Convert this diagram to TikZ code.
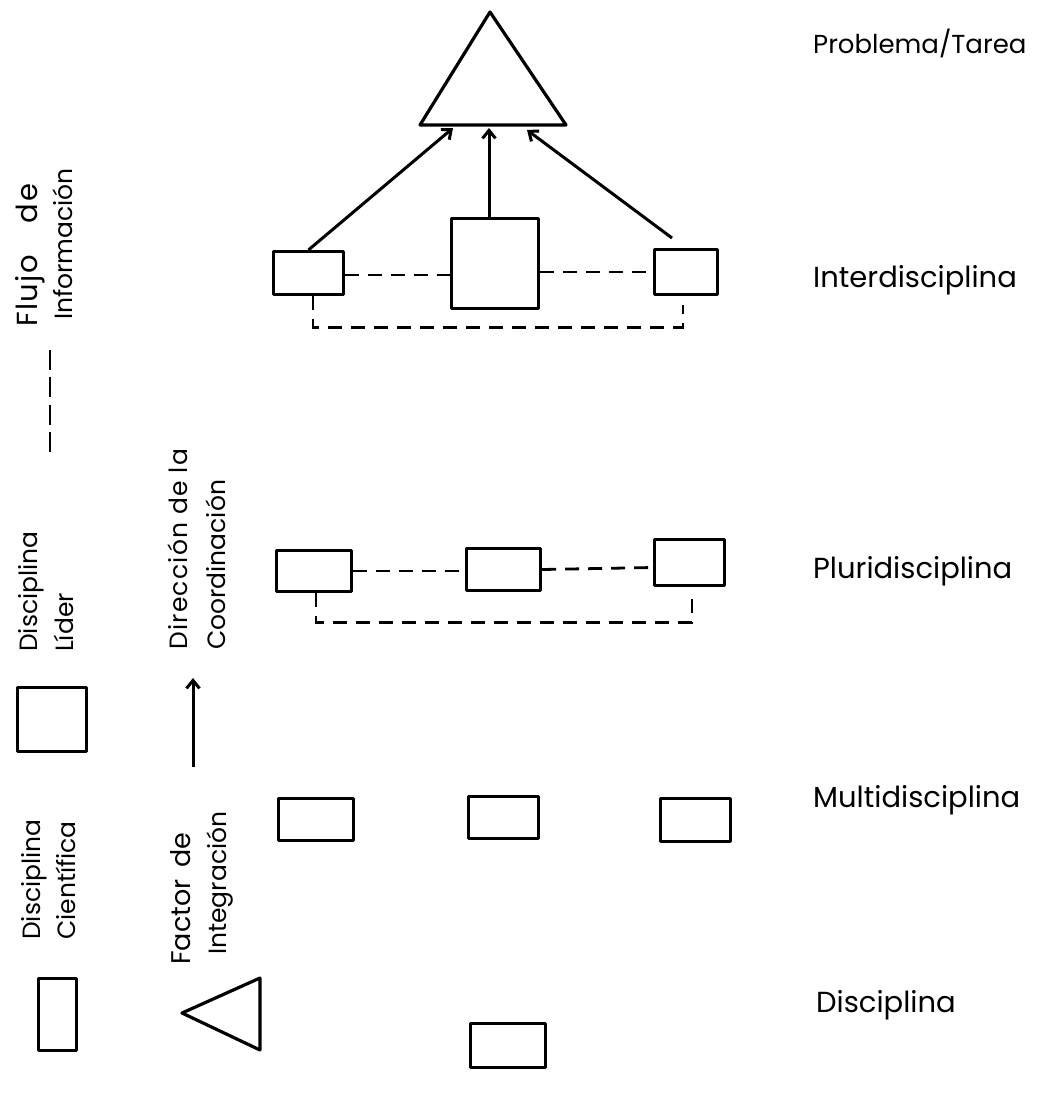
\documentclass[tikz,border=0pt]{standalone}
\usepackage{fontspec}
\setmainfont{Poppins}
\usetikzlibrary{arrows.meta}
\tikzset{
  box/.style 2 args={draw, line width=3.2pt, minimum width=#1pt, minimum height=#2pt, inner sep=0pt, line join=round},
  dl/.style={line width=2.8pt, dash pattern=on 14pt off 9pt},
  arr/.style={line width=3pt, -{Straight Barb[length=8pt,width=13pt]}},
  lab/.style={font=\fontsize{29}{34}\selectfont, anchor=base west, inner sep=0pt},
  rlab/.style={font=\fontsize{25}{30}\selectfont, rotate=90, anchor=base west, inner sep=0pt},
  shp/.style={line width=3.2pt, line join=round}
}
\begin{document}
\begin{tikzpicture}[x=1pt,y=-1pt]
\useasboundingbox[fill=white] (0,0) rectangle (1038,1106);

% top triangle
\coordinate (ta) at (490,12);
\coordinate (tl) at (420,125);
\coordinate (tr) at (566,125);
\draw[shp] (ta) -- (tl) -- (tr) -- cycle;
\coordinate (a1) at (453,128);
\coordinate (a2) at (489,128);
\coordinate (a3) at (527,130);

% Interdisciplina row
\node[box={70}{43}] (I1) at (308.5,273) {};
\node[box={87}{90}] (I2) at (495,263.5) {};
\node[box={63}{45}] (I3) at (686,272) {};
\coordinate (s3) at (672,238);
\draw[arr] (I1.north) -- (a1);
\draw[arr] ([xshift=-6pt]I2.north) -- (a2);
\draw[arr] (s3) -- (a3);
\draw[dl] ([yshift=-2pt]I1.east) -- ([yshift=-2pt]I1.east -| I2.west);
\draw[dl] (I3.west -| I2.east) -- (I3.west);
\draw[dl] ([xshift=4.5pt]I1.south) -- ++(0,31) -| ([xshift=-3pt,yshift=-9pt]I3.south);

% Pluridisciplina row
\node[box={75}{41}] (P1) at (314,571) {};
\node[box={74}{42}] (P2) at (503.5,569.5) {};
\node[box={70}{46}] (P3) at (689.5,562.5) {};
\draw[dl] (P1.east) -- (P1.east -| P2.west);
\draw[dl] (P2.east) -- ([yshift=-5pt]P3.west);
\draw[dl] ([xshift=2pt]P1.south) -- ++(0,29) -| ([xshift=2.5pt,yshift=-8pt]P3.south);

% Multidisciplina row
\node[box={75}{42}] (M1) at (316,819.5) {};
\node[box={70}{42}] (M2) at (503.5,817.5) {};
\node[box={70}{43}] (M3) at (695.5,820) {};

% Disciplina row
\node[box={75}{44}] (D1) at (508,1045.5) {};

% right labels
\node[lab, font=\fontsize{26}{31}\selectfont] (lPT) at (813,53) {Problema/Tarea};
\node[lab] (lI) at (813,287) {Interdisciplina};
\node[lab] (lP) at (813,578) {Pluridisciplina};
\node[lab] (lM) at (813,807) {Multidisciplina};
\node[lab] (lD) at (816,1012) {Disciplina};

% legend
\node[rlab, font=\fontsize{29}{34}\selectfont] (f1) at (37,327) {\addfontfeatures{LetterSpace=5}Flujo\hspace{1.1em}de};
\node[rlab] (f2) at (72,320) {Información};
\coordinate (fd0) at (50,350);
\coordinate (fd1) at (50,452);
\draw[line width=2.8pt, dash pattern=on 20pt off 7.3pt] (fd0) -- (fd1);

\node[rlab] (d1) at (37,652) {Disciplina};
\node[rlab] (d2) at (73,652) {Líder};
\node[box={69}{64}] (LL) at (52,719.5) {};

\node[rlab] (c1) at (187,650) {\addfontfeatures{LetterSpace=5}Dirección de la};
\node[rlab] (c2) at (225,650) {Coordinación};
\coordinate (la0) at (193,767);
\coordinate (la1) at (193,678);
\draw[arr] (la0) -- (la1);

\node[rlab] (e1) at (40,940) {Disciplina};
\node[rlab] (e2) at (75,940) {Científica};
\node[box={38}{72}] (LS) at (57.5,1014.5) {};

\node[rlab, font=\fontsize{27}{32}\selectfont] (g1) at (190,965) {Factor\hspace{0.45em}de};
\node[rlab] (g2) at (226,955) {Integración};
\coordinate (lt0) at (182,1013);
\coordinate (lt1) at (260,978);
\coordinate (lt2) at (260,1050);
\draw[shp] (lt0) -- (lt1) -- (lt2) -- cycle;
\end{tikzpicture}
\end{document}
